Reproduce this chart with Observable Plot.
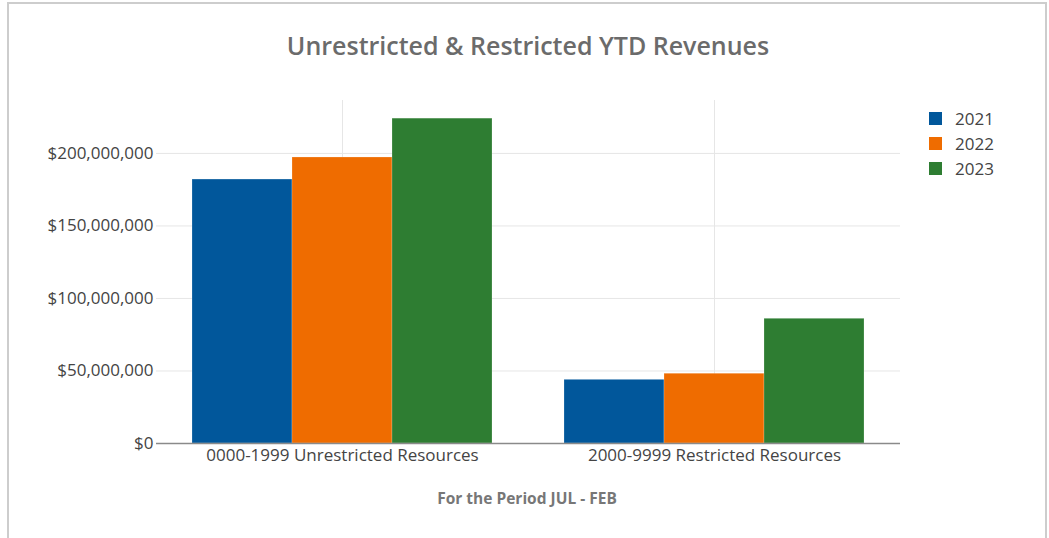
<!DOCTYPE html>
<html><head><meta charset="utf-8">
<script src="https://cdn.jsdelivr.net/npm/d3@7"></script>
<script src="https://cdn.jsdelivr.net/npm/@observablehq/plot@0.6"></script>
<style>
html,body{margin:0;padding:0;width:1049px;height:538px;overflow:hidden;background:#fff;font-family:"Open Sans",sans-serif;}
#frame{position:absolute;left:7px;top:2px;width:1040px;height:620px;border:2px solid #cdcdcd;box-sizing:border-box;}
#chart{position:absolute;left:0;top:0;}
#title{position:absolute;left:0;width:1056px;top:28px;line-height:34px;text-align:center;font-size:25px;font-weight:600;color:#6b6b6b;}
#caption{position:absolute;left:0;width:1054px;top:487px;line-height:22px;text-align:center;font-size:15.5px;font-weight:700;color:#777;}
#legend{position:absolute;left:929px;top:106px;}
.item{position:relative;height:25px;line-height:25px;font-size:17px;color:#444;}
.sw{position:absolute;left:0;top:6px;width:13px;height:13px;}
.lab{position:absolute;left:26px;top:0;}
</style></head>
<body>
<div id="frame"></div>
<div id="chart"></div>
<div id="title">Unrestricted &amp; Restricted YTD Revenues</div>
<div id="caption">For the Period JUL - FEB</div>
<div id="legend"></div>
<script>
const categories = ["0000-1999 Unrestricted Resources", "2000-9999 Restricted Resources"];
const years = ["2021", "2022", "2023"];
const v2021 = [182000000, 43900000];
const v2022 = [197200000, 48100000];
const v2023 = [224000000, 86000000];
const colors = ["#01579b", "#ef6c00", "#2e7d32"];
const yTicks = [0, 50000000, 100000000, 150000000, 200000000];

const series = [v2021, v2022, v2023];
const data = [];
categories.forEach((c, i) => years.forEach((yr, j) => data.push({cat: c, year: yr, value: series[j][i]})));

const fmt = d3.format(",");
const plot = Plot.plot({
  width: 1049, height: 538,
  marginLeft: 155, marginRight: 149, marginTop: 100, marginBottom: 95,
  style: {fontFamily: "Open Sans", fontSize: "17px", color: "#444", background: "transparent", overflow: "visible"},
  fx: {domain: categories, padding: 0},
  x: {domain: years, paddingInner: 0, paddingOuter: 0.345, axis: null},
  y: {domain: [0, 236500000]},
  color: {domain: years, range: colors},
  marks: [
    Plot.gridY(yTicks, {stroke: "#e6e6e6", strokeOpacity: 1}),
    Plot.ruleX(["2022"], {stroke: "#e6e6e6", strokeOpacity: 1}),
    Plot.barY(data, {fx: "cat", x: "year", y: "value", fill: "year", stroke: "#ffffff", strokeOpacity: 0.35, strokeWidth: 0.6}),
    Plot.ruleY([0], {stroke: "#8a8a8a", strokeWidth: 1.5}),
    Plot.axisY({ticks: yTicks, tickFormat: d => "$" + fmt(d), tickSize: 0, tickPadding: 3, label: null, fill: "#444"}),
    Plot.axisFx({anchor: "bottom", tickSize: 0, tickPadding: 5, label: null, fill: "#444"})
  ]
});
document.getElementById("chart").appendChild(plot);

const lg = document.getElementById("legend");
years.forEach((yr, i) => {
  const it = document.createElement("div");
  it.className = "item";
  it.innerHTML = `<span class="sw" style="background:${colors[i]}"></span><span class="lab">${yr}</span>`;
  lg.appendChild(it);
});
</script>
</body></html>
